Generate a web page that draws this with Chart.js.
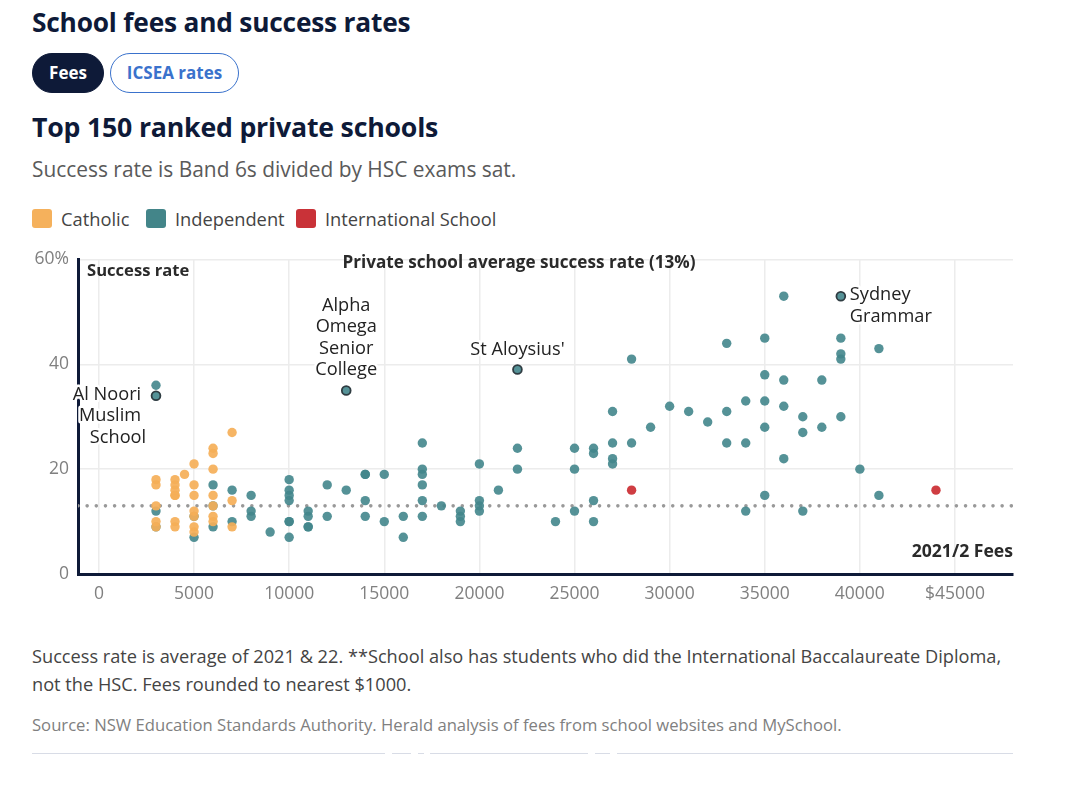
<!DOCTYPE html>
<html>
<head>
<meta charset="utf-8">
<title>School fees and success rates</title>
<script src="https://cdn.jsdelivr.net/npm/chart.js@4"></script>
<style>
  html, body { margin: 0; padding: 0; background: #fff; }
  body { width: 1080px; height: 797px; position: relative; overflow: hidden; font-family: "Open Sans", sans-serif; }
  .txt { position: absolute; left: 32px; white-space: nowrap; }
  #titulo { top: 4px; font-size: 26.3px; font-weight: 700; color: #0e1a38; letter-spacing: -0.2px; }
  #subtitulo { top: 108px; font-size: 26.7px; font-weight: 700; color: #0e1a38; letter-spacing: -0.2px; }
  #descricao { top: 155px; font-size: 20.9px; color: #5a5a5a; }
  .pill { position: absolute; top: 53px; height: 40px; line-height: 38px; border-radius: 20px; box-sizing: border-box; text-align: center; font-size: 17px; font-weight: 700; }
  #pillFees { left: 32px; width: 72px; background: #0e1a38; color: #fff; border: 1px solid #0e1a38; }
  #pillIcsea { left: 110px; width: 129px; background: #fff; color: #3a72cc; border: 1.5px solid #3a72cc; }
  #legenda { position: absolute; top: 209px; left: 32px; height: 20px; font-size: 18.3px; color: #444; }
  #legenda span { position: absolute; top: 0; white-space: nowrap; line-height: 20px; }
  #legenda i { position: absolute; top: 0; width: 20px; height: 19px; border-radius: 3px; }
  #grafico { position: absolute; left: 0; top: 240px; width: 1080px; height: 370px; }
  #nota { top: 642px; font-size: 18.2px; line-height: 28px; color: #444; }
  #fonte { top: 713px; font-size: 16.65px; color: #808080; }
  .regua { position: absolute; top: 753px; height: 1px; background: #d8dce6; }
</style>
</head>
<body>
<div class="txt" id="titulo">School fees and success rates</div>
<div class="pill" id="pillFees">Fees</div>
<div class="pill" id="pillIcsea">ICSEA rates</div>
<div class="txt" id="subtitulo">Top 150 ranked private schools</div>
<div class="txt" id="descricao">Success rate is Band 6s divided by HSC exams sat.</div>
<div id="legenda"></div>
<div id="grafico"><canvas id="myChart" width="1080" height="370"></canvas></div>
<div class="txt" id="nota">Success rate is average of 2021 &amp; 22. **School also has students who did the International Baccalaureate Diploma,<br>not the HSC. Fees rounded to nearest $1000.</div>
<div class="txt" id="fonte">Source: NSW Education Standards Authority. Herald analysis of fees from school websites and MySchool.</div>
<div class="regua" style="left:32px;width:353px"></div>
<div class="regua" style="left:392px;width:19px"></div>
<div class="regua" style="left:418px;width:6px"></div>
<div class="regua" style="left:430px;width:158px"></div>
<div class="regua" style="left:595px;width:15px"></div>
<div class="regua" style="left:617px;width:396px"></div>

<script>
const xTicks = [0, 5000, 10000, 15000, 20000, 25000, 30000, 35000, 40000, 45000];
const yTicks = [0, 20, 40, 60];

const catholicFees = [
  3000, 3000, 3000, 3000, 3000,
  4000, 4000, 4000, 4000, 4000, 4000, 4000,
  4500,
  5000, 5000, 5000, 5000, 5000, 5000, 5000,
  6000, 6000, 6000, 6000, 6000, 6000, 6000,
  7000, 7000, 7000,
];
const catholicRates = [
  18, 17, 13, 10, 9,
  18, 17, 16, 15, 15, 10, 9,
  19,
  21, 17, 15, 12, 11, 9, 8,
  24, 23, 20, 15, 13, 11, 10,
  27, 14, 9,
];

const independentFees = [
  3000, 3000, 3000, 5000, 5000, 6000, 6000, 6000, 7000, 7000,
  8000, 8000, 8000, 9000,
  10000, 10000, 10000, 10000, 10000, 10000, 10000,
  11000, 11000, 11000, 11000, 12000, 12000, 13000,
  14000, 14000, 14000, 14000, 15000, 15000, 16000, 16000,
  17000, 17000, 17000, 17000, 17000, 17000, 18000,
  19000, 19000, 19000, 20000, 20000, 20000, 20000, 21000,
  22000, 22000, 24000, 25000, 25000, 25000,
  26000, 26000, 26000, 26000, 27000, 27000, 27000, 27000,
  28000, 28000, 29000, 30000, 31000, 32000,
  33000, 33000, 33000, 34000, 34000, 34000,
  35000, 35000, 35000, 35000, 35000,
  36000, 36000, 36000, 36000, 37000, 37000, 37000, 38000, 38000,
  39000, 39000, 39000, 39000, 40000, 41000, 41000,
];
const independentRates = [
  36, 12, 9, 11, 7, 17, 13, 9, 16, 10,
  15, 12, 11, 8,
  18, 16, 15, 14, 10, 10, 7,
  12, 11, 9, 9, 17, 11, 16,
  19, 19, 14, 11, 19, 10, 11, 7,
  25, 20, 19, 17, 14, 11, 13,
  12, 11, 10, 21, 14, 13, 12, 16,
  24, 20, 10, 24, 20, 12,
  24, 23, 14, 10, 31, 25, 22, 21,
  41, 25, 28, 32, 31, 29,
  44, 31, 25, 33, 25, 12,
  45, 38, 33, 28, 15,
  53, 37, 32, 22, 30, 27, 12, 37, 28,
  45, 42, 41, 30, 20, 43, 15,
];

const internationalFees = [28000, 44000];
const internationalRates = [16, 16];

// Escolas com rótulo no gráfico
const calloutFees = [3000, 13000, 22000, 39000];
const calloutRates = [34, 35, 39, 53];
const calloutLines = [
  ["Al Noori", "Muslim", "School"],
  ["Alpha", "Omega", "Senior", "College"],
  ["St Aloysius'"],
  ["Sydney", "Grammar"],
];

const averageRate = 13;
const averageFees = [-1100, 48050];
const averageRates = [averageRate, averageRate];

const legendNames = ["Catholic", "Independent", "International School"];

const corCatolica = "rgba(245, 175, 88, 0.92)";
const corIndependente = "rgba(66, 134, 140, 0.9)";
const corInternacional = "rgba(204, 51, 56, 0.95)";
const corMarinho = "#0e1a38";
const fonteBase = '"Open Sans", sans-serif';

// Legenda em HTML
const legenda = document.getElementById("legenda");
const legendaCores = ["#f5b15c", "#438589", "#c93238"];
const legendaX = [0, 114, 264];
legendNames.forEach((nome, i) => {
  const quadrado = document.createElement("i");
  quadrado.style.left = legendaX[i] + "px";
  quadrado.style.background = legendaCores[i];
  legenda.appendChild(quadrado);
  const texto = document.createElement("span");
  texto.style.left = legendaX[i] + 29 + "px";
  texto.textContent = nome;
  legenda.appendChild(texto);
});

function pontos(xs, ys) {
  return xs.map((x, i) => ({ x: x, y: ys[i] }));
}

// Posição de cada linha dos rótulos, em px a partir do ponto
const calloutLayout = [
  { align: "center", dx: [-49, -46, -38], dy: [-1, 20, 42] },
  { align: "center", dx: [0, 0, 0, 0], dy: [-85, -64, -42, -21] },
  { align: "center", dx: [0], dy: [-20] },
  { align: "left", dx: [9, 9], dy: [-1, 21] },
];

const textosPlugin = {
  id: "textos",
  afterDatasetsDraw(chart) {
    const { ctx, chartArea, scales } = chart;
    ctx.save();
    ctx.textBaseline = "middle";
    ctx.lineJoin = "round";

    calloutLines.forEach((linhas, i) => {
      const px = scales.x.getPixelForValue(calloutFees[i]);
      const py = scales.y.getPixelForValue(calloutRates[i]);
      const pos = calloutLayout[i];
      ctx.font = "18.2px " + fonteBase;
      ctx.textAlign = pos.align;
      linhas.forEach((linha, j) => {
        ctx.strokeStyle = "#fff";
        ctx.lineWidth = 5;
        ctx.strokeText(linha, px + pos.dx[j], py + pos.dy[j]);
        ctx.fillStyle = "#222";
        ctx.fillText(linha, px + pos.dx[j], py + pos.dy[j]);
      });
    });

    ctx.fillStyle = "#2a2a2a";
    ctx.textAlign = "left";
    ctx.font = "bold 16.6px " + fonteBase;
    ctx.fillText("Success rate", chartArea.left + 9, chartArea.top + 12);
    ctx.textAlign = "center";
    ctx.font = "bold 17.1px " + fonteBase;
    ctx.fillText("Private school average success rate (13%)", 519, chartArea.top + 4);
    ctx.textAlign = "right";
    ctx.font = "bold 17.6px " + fonteBase;
    ctx.fillText("2021/2 Fees", chartArea.right, chartArea.bottom - 22);
    ctx.restore();
  },
};

const config = {
  type: "scatter",
  data: {
    datasets: [
      {
        label: legendNames[0],
        data: pontos(catholicFees, catholicRates),
        backgroundColor: corCatolica,
        borderWidth: 0,
        pointRadius: 4.7,
      },
      {
        label: legendNames[1],
        data: pontos(independentFees, independentRates),
        backgroundColor: corIndependente,
        borderWidth: 0,
        pointRadius: 4.7,
      },
      {
        label: legendNames[2],
        data: pontos(internationalFees, internationalRates),
        backgroundColor: corInternacional,
        borderWidth: 0,
        pointRadius: 4.7,
      },
      {
        label: "Destaques",
        data: pontos(calloutFees, calloutRates),
        backgroundColor: corIndependente,
        borderColor: "#2f3c42",
        borderWidth: 1.8,
        pointRadius: 4.4,
      },
      {
        label: "Média",
        type: "line",
        data: pontos(averageFees, averageRates),
        borderColor: "#999",
        borderWidth: 3.6,
        borderDash: [0, 9.15],
        borderCapStyle: "round",
        pointRadius: 0,
        fill: false,
      },
    ],
  },
  options: {
    responsive: false,
    animation: false,
    layout: { padding: { left: 0, right: 67, top: 17, bottom: 0 } },
    plugins: { legend: { display: false }, tooltip: { enabled: false } },
    scales: {
      x: {
        type: "linear",
        min: -1100,
        max: 48050,
        afterBuildTicks: (eixo) => { eixo.ticks = xTicks.map((v) => ({ value: v })); },
        afterFit: (eixo) => { eixo.height = 36; },
        grid: { color: "#ececec", lineWidth: 1.5, drawTicks: false },
        border: { color: corMarinho, width: 3 },
        ticks: {
          color: "#808080",
          padding: 10,
          maxRotation: 0,
          font: { family: fonteBase, size: 17.5 },
          callback: (valor) => (valor === 45000 ? "$" + valor : String(valor)),
        },
      },
      y: {
        min: 0,
        max: 60,
        afterBuildTicks: (eixo) => { eixo.ticks = yTicks.map((v) => ({ value: v })); },
        afterFit: (eixo) => { eixo.width = 78; },
        grid: { color: "#ececec", lineWidth: 1.5, drawTicks: false },
        border: { color: corMarinho, width: 3 },
        ticks: {
          color: "#808080",
          padding: 9,
          font: { family: fonteBase, size: 17.5 },
          callback: (valor) => (valor === 60 ? valor + "%" : String(valor)),
        },
      },
    },
  },
  plugins: [textosPlugin],
};

new Chart(document.getElementById("myChart"), config);
</script>
</body>
</html>
